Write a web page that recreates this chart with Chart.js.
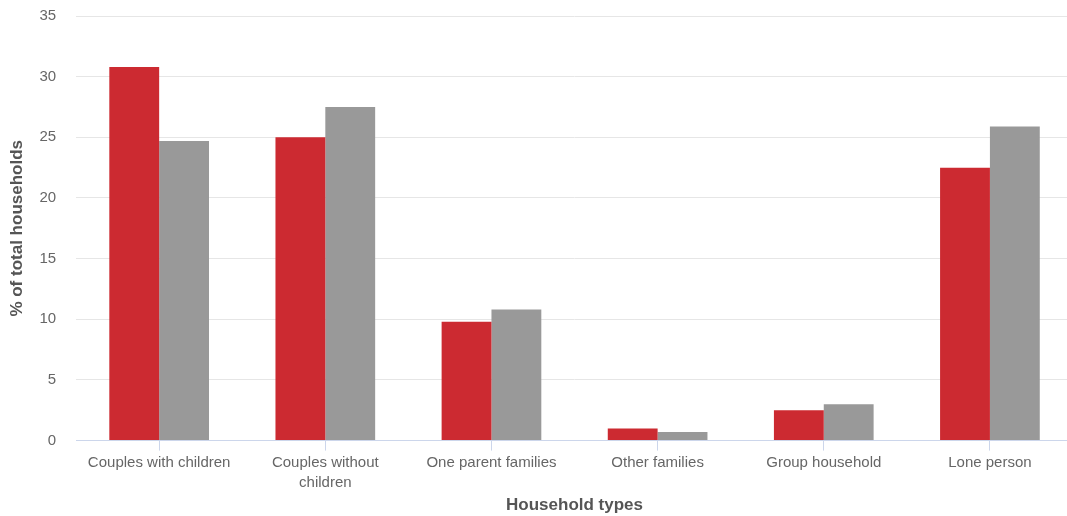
<!DOCTYPE html>
<html lang="en">
<head>
  <meta charset="UTF-8" />
  <title>Household types</title>
  <script src="https://cdn.jsdelivr.net/npm/chart.js"></script>
  <style>
    html, body { margin: 0; padding: 0; background: #fff; overflow: hidden; }
    /* plot area runs slightly past the right edge of the page */
    #wrap { width: 1073px; height: 516px; position: relative; }
  </style>
</head>
<body>
  <div id="wrap"><canvas id="chart"></canvas></div>

  <script>
    // household type categories and share of households (%)
    const categories = [
      'Couples with children',
      ['Couples without', 'children'],
      'One parent families',
      'Other families',
      'Group household',
      'Lone person'
    ];
    const areaShare = [30.8, 25.0, 9.8, 1.0, 2.5, 22.5];
    const compareShare = [24.7, 27.5, 10.8, 0.7, 3.0, 25.9];
    const yTicks = [0, 5, 10, 15, 20, 25, 30, 35];

    const font = 'Arial, "Liberation Sans", sans-serif';

    new Chart(document.getElementById('chart'), {
      type: 'bar',
      data: {
        labels: categories,
        datasets: [
          { label: 'Area', data: areaShare, backgroundColor: '#cc2a31' },
          { label: 'Comparison', data: compareShare, backgroundColor: '#999999' }
        ]
      },
      options: {
        responsive: true,
        maintainAspectRatio: false,
        animation: false,
        categoryPercentage: 0.6,
        barPercentage: 1.0,
        layout: { padding: { top: 16, right: 0, left: 7, bottom: 0 } },
        plugins: { legend: { display: false }, tooltip: { enabled: false } },
        scales: {
          x: {
            grid: {
              offset: false,
              drawOnChartArea: false,
              drawTicks: true,
              tickLength: 10,
              tickColor: '#ccd6eb'
            },
            border: { color: '#ccd6eb' },
            ticks: {
              color: '#666',
              font: { family: font, size: 15, lineHeight: 1.3 },
              maxRotation: 0,
              autoSkip: false,
              padding: 3
            },
            title: {
              display: true,
              text: 'Household types',
              color: '#555',
              font: { family: font, size: 17, weight: 'bold' },
              padding: { top: 0, bottom: 0 }
            }
          },
          y: {
            min: 0,
            max: 35,
            afterBuildTicks: axis => { axis.ticks = yTicks.map(v => ({ value: v })); },
            // invisible tick marks give the gap between labels and plot
            grid: { color: '#e6e6e6', drawTicks: true, tickLength: 20, tickColor: 'rgba(0,0,0,0)' },
            border: { display: false },
            ticks: {
              color: '#666',
              font: { family: font, size: 15 },
              padding: 0
            },
            title: {
              display: true,
              text: '% of total households',
              color: '#555',
              font: { family: font, size: 17, weight: 'bold' },
              padding: { top: 0, bottom: 12 }
            }
          }
        }
      }
    });
  </script>
</body>
</html>
